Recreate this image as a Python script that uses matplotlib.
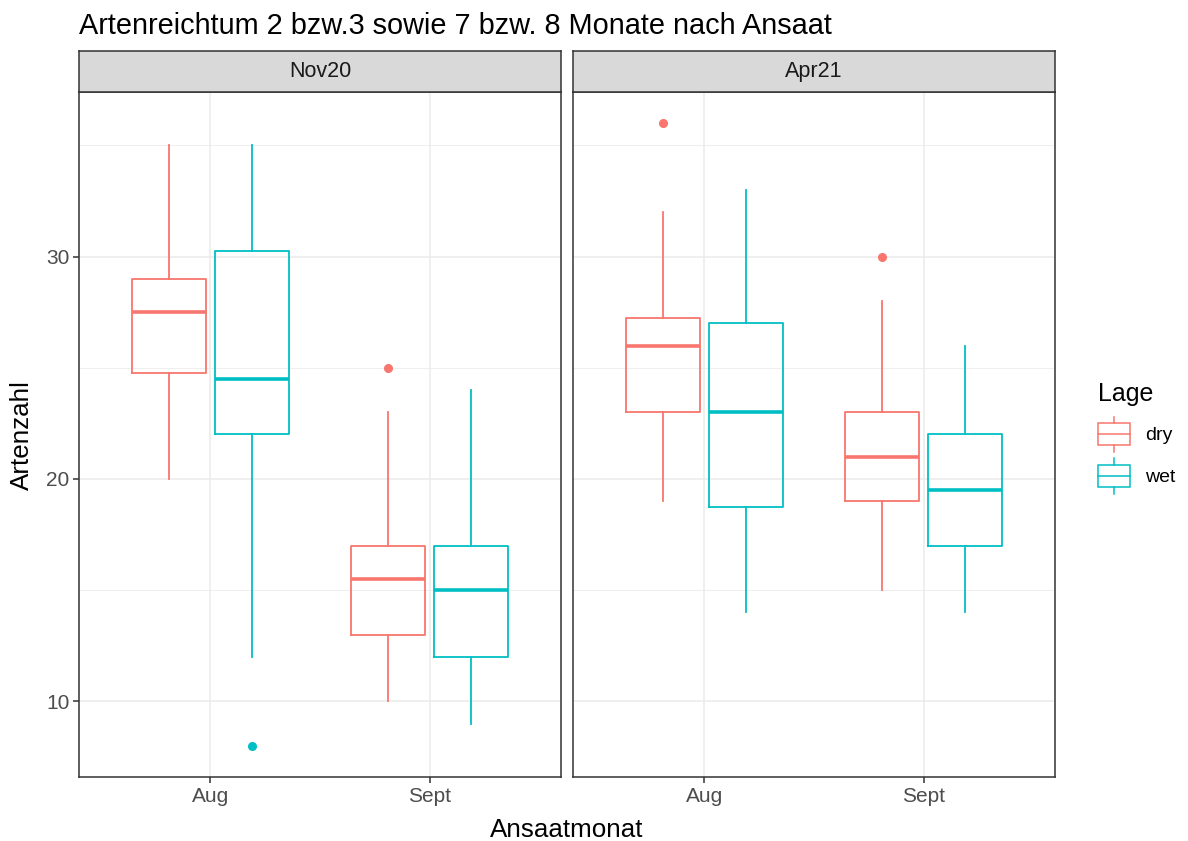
import numpy as np
import matplotlib
matplotlib.use("Agg")
import matplotlib.pyplot as plt
from matplotlib.patches import Rectangle
from matplotlib.lines import Line2D
from matplotlib.legend_handler import HandlerBase

plt.rcParams['font.family'] = ['Liberation Sans', 'DejaVu Sans']

# <><><><><><><><><><><><><><><><><><><><><><><><><><><><><><><><><><>
# Data: five-number summaries (whislo, q1, med, q3, whishi) per Ansaatmonat
panels = ['Nov20', 'Apr21']
months = ['Aug', 'Sept']
lagen = ['dry', 'wet']

nov20_dry = [(20, 24.75, 27.5, 29, 35), (10, 13, 15.5, 17, 23)]
nov20_wet = [(12, 22, 24.5, 30.25, 35), (9, 12, 15, 17, 24)]
apr21_dry = [(19, 23, 26, 27.25, 32), (15, 19, 21, 23, 28)]
apr21_wet = [(14, 18.75, 23, 27, 33), (14, 17, 19.5, 22, 26)]

nov20_dry_out = [[], [25]]
nov20_wet_out = [[8], []]
apr21_dry_out = [[36], [30]]
apr21_wet_out = [[], []]

y_ticks = [10, 20, 30]
y_minor = [15, 25, 35]
# <><><><><><><><><><><><><><><><><><><><><><><><><><><><><><><><><><>

colours = {'dry': '#F8766D', 'wet': '#00BFC4'}
summaries = {
    'Nov20': {'dry': (nov20_dry, nov20_dry_out), 'wet': (nov20_wet, nov20_wet_out)},
    'Apr21': {'dry': (apr21_dry, apr21_dry_out), 'wet': (apr21_wet, apr21_wet_out)},
}

W, H = 1188, 841
fig = plt.figure(figsize=(W / 100, H / 100), dpi=100)


def px_axes(x0, y0, x1, y1):
    # pixel box (top-left origin) -> figure axes
    return fig.add_axes([x0 / W, 1 - y1 / H, (x1 - x0) / W, (y1 - y0) / H])


panel_x = [(79, 561), (573, 1055)]
panel_top, panel_bot = 92, 777
strip_top = 51

dodge = 0.1875
box_w = 0.3375
border = '#333333'

axes = []
for i, panel in enumerate(panels):
    x0, x1 = panel_x[i]
    ax = px_axes(x0, panel_top, x1, panel_bot)
    axes.append(ax)
    for j, lage in enumerate(lagen):
        fives, outs = summaries[panel][lage]
        stats = []
        for (lo, q1, med, q3, hi), fl in zip(fives, outs):
            stats.append(dict(whislo=lo, q1=q1, med=med, q3=q3, whishi=hi, fliers=fl))
        pos = np.arange(1, len(months) + 1) + (j * 2 - 1) * dodge
        c = colours[lage]
        ax.bxp(stats, positions=pos, widths=box_w, showcaps=False,
               boxprops=dict(color=c, linewidth=1.3),
               whiskerprops=dict(color=c, linewidth=1.3),
               medianprops=dict(color=c, linewidth=2.6, solid_capstyle='butt'),
               flierprops=dict(marker='o', markerfacecolor=c, markeredgecolor=c,
                               markersize=5.5, linestyle='none'),
               manage_ticks=False, zorder=3)

    ax.set_xlim(0.4, 2.6)
    ax.set_ylim(6.6, 37.4)
    ax.set_xticks([1, 2])
    ax.set_xticklabels(months)
    ax.set_yticks(y_ticks)
    ax.set_yticks(y_minor, minor=True)
    ax.grid(True, which='major', color='#EBEBEB', linewidth=1.1, zorder=0)
    ax.grid(True, which='minor', axis='y', color='#EBEBEB', linewidth=0.6, zorder=0)
    ax.set_axisbelow(True)
    ax.tick_params(which='major', length=4, width=1.1, color=border,
                   labelcolor='#4D4D4D', labelsize=15, pad=3)
    ax.tick_params(which='minor', length=0)
    if i > 0:
        ax.tick_params(axis='y', which='major', length=0, labelleft=False)
    for sp in ax.spines.values():
        sp.set_color(border)
        sp.set_linewidth(1.1)

    # facet strip
    sax = px_axes(x0, strip_top, x1, panel_top)
    sax.set_facecolor('#D9D9D9')
    sax.set_xticks([])
    sax.set_yticks([])
    for sp in sax.spines.values():
        sp.set_color(border)
        sp.set_linewidth(1.1)
    sax.text(0.5, 0.5, panel, ha='center', va='center', fontsize=15.5,
             color='#1A1A1A', transform=sax.transAxes)

fig.text(79 / W, 1 - 26 / H, 'Artenreichtum 2 bzw.3 sowie 7 bzw. 8 Monate nach Ansaat',
         ha='left', va='center', fontsize=20.8)
fig.text(567 / W, 1 - 830 / H, 'Ansaatmonat', ha='center', va='center', fontsize=18.7)
fig.text(22 / W, 1 - 435 / H, 'Artenzahl', ha='center', va='center',
         rotation=90, fontsize=18.7)


class BoxKey(HandlerBase):
    def create_artists(self, legend, orig_handle, xdescent, ydescent,
                       width, height, fontsize, trans):
        c = orig_handle.get_color()
        x0, y0 = -xdescent, -ydescent
        xm = x0 + width / 2
        box = Rectangle((x0, y0 + 0.22 * height), width, 0.56 * height,
                        facecolor='white', edgecolor=c, linewidth=1.1, transform=trans)
        med = Line2D([x0, x0 + width], [y0 + 0.5 * height] * 2, color=c,
                     linewidth=1.1, transform=trans)
        wl = Line2D([xm, xm], [y0 + 0.05 * height, y0 + 0.22 * height], color=c,
                    linewidth=1.1, transform=trans)
        wh = Line2D([xm, xm], [y0 + 0.78 * height, y0 + 0.95 * height], color=c,
                    linewidth=1.1, transform=trans)
        return [box, med, wl, wh]


handles = [Line2D([], [], color=colours[l]) for l in lagen]
leg = fig.legend(handles, lagen, title='Lage', loc='center left',
                 bbox_to_anchor=(1080 / W, 1 - 439 / H), frameon=False,
                 fontsize=14, title_fontsize=18, handlelength=1.65, handleheight=2.75,
                 labelspacing=0.1, handletextpad=0.8,
                 handler_map={Line2D: BoxKey()})
leg._legend_box.align = 'left'
leg._legend_box.sep = 6

fig.savefig('out.png', dpi=100)
